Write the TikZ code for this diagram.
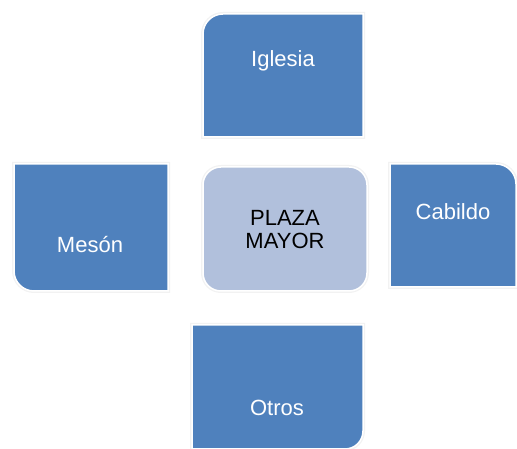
\documentclass[tikz,border=0pt]{standalone}
\usepackage{fontspec}
\setmainfont{Liberation Sans}
\definecolor{tileblue}{HTML}{4F81BD}
\definecolor{plazablue}{HTML}{B1C0DC}
\tikzset{
  tile/.style={fill=tileblue, draw=white, line width=1.5pt,
    preaction={draw=black!5, line width=4pt}},
  plazatile/.style={tile, fill=plazablue},
  tiletext/.style={text=white, font=\fontsize{22}{23}\selectfont, align=center},
}
\begin{document}
\begin{tikzpicture}[x=1pt, y=1pt]
	\useasboundingbox (0, 0) rectangle (517, 449);
	% tiles
	\path[tile] (203, 312) -- (203, 415) arc[start angle=180, end angle=90, radius=20] -- (363, 435) -- (363, 312) -- cycle;
	\path[tile] (14, 178) -- (14, 285) -- (168, 285) -- (168, 158) -- (34, 158) arc[start angle=270, end angle=180, radius=20] -- cycle;
	\path[plazatile, rounded corners=18pt] (203, 158) rectangle (367, 282);
	\path[tile] (390, 162) -- (390, 285) -- (496, 285) arc[start angle=90, end angle=0, radius=20] -- (516, 162) -- cycle;
	\path[tile] (192, 124) -- (363, 124) -- (363, 18) arc[start angle=0, end angle=-90, radius=18] -- (192, 0) -- cycle;
	% texts
	\node[tiletext] (iglesia) at (283, 388) {Iglesia};
	\node[tiletext] (meson) at (90, 204) {Mesón};
	\node[tiletext, text=black] (plaza) at (285, 219) {PLAZA\\MAYOR};
	\node[tiletext] (cabildo) at (453, 237) {Cabildo};
	\node[tiletext] (otros) at (277, 41) {Otros};
\end{tikzpicture}
\end{document}
